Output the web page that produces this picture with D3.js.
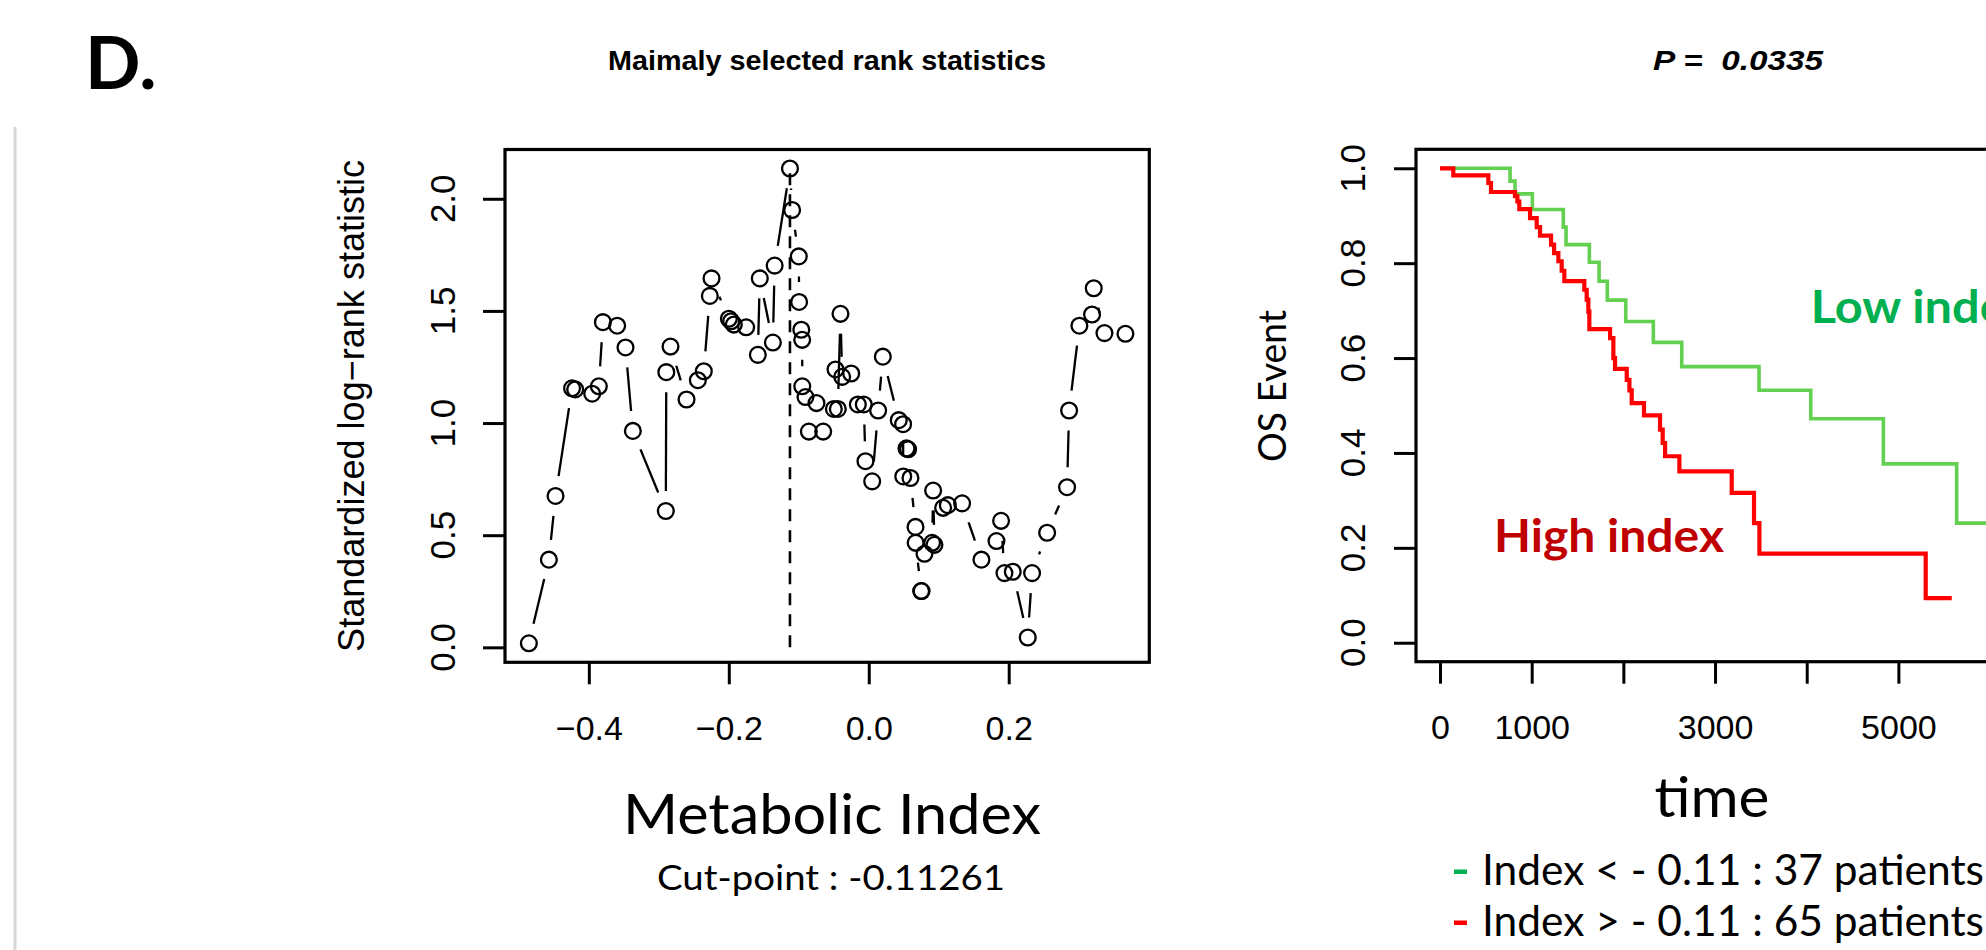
<!DOCTYPE html>
<html>
<head>
<meta charset="utf-8">
<script src="https://cdn.jsdelivr.net/npm/d3@7"></script>
<style>
	body { margin: 0; background: #fff; }
	svg { display: block; }
	.rtxt { font-family: "Liberation Sans", Arial, sans-serif; }
	.pptxt { font-family: Lato, "Open Sans", sans-serif; }
</style>
</head>
<body>
<svg id="chart" width="1986" height="950"></svg>
<script>
// left panel: maximally selected rank statistics
var cutValues = [-0.4857, -0.4571, -0.4476, -0.4240, -0.4195, -0.3952, -0.3857, -0.3799, -0.3595, -0.3476,
	-0.3371, -0.2900, -0.2893, -0.2833, -0.2604, -0.2442, -0.2357, -0.2271, -0.2247, -0.1999,
	-0.1966, -0.1928, -0.1752, -0.1585, -0.1557, -0.1370, -0.1345, -0.1126, -0.1095, -0.1000,
	-0.0995, -0.0964, -0.0951, -0.0950, -0.0904, -0.0856, -0.0747, -0.0651, -0.0499, -0.0475,
	-0.0442, -0.0404, -0.0380, -0.0251, -0.0156, -0.0071, -0.0047, 0.0049, 0.0134, 0.0201,
	0.0429, 0.0491, 0.0493, 0.0539, 0.0563, 0.0596, 0.0668, 0.0670, 0.0749, 0.0755,
	0.0796, 0.0906, 0.0920, 0.0939, 0.1063, 0.1130, 0.1334, 0.1610, 0.1825, 0.1891,
	0.1939, 0.2058, 0.2272, 0.2334, 0.2549, 0.2834, 0.2863, 0.3010, 0.3191, 0.3215,
	0.3368, 0.3668];
var statValues = [0.018, 0.391, 0.675, 1.155, 1.150, 1.131, 1.164, 1.450, 1.434, 1.337,
	0.965, 0.608, 1.227, 1.341, 1.105, 1.191, 1.231, 1.567, 1.645, 1.465,
	1.454, 1.439, 1.427, 1.304, 1.645, 1.359, 1.702, 2.135, 1.950, 1.743,
	1.540, 1.416, 1.371, 1.164, 1.116, 0.962, 1.089, 0.962, 1.063, 1.239,
	1.063, 1.487, 1.206, 1.221, 1.083, 1.083, 0.830, 0.740, 1.056, 1.296,
	1.013, 0.995, 0.762, 0.887, 0.883, 0.755, 0.537, 0.466, 0.251, 0.251,
	0.417, 0.466, 0.699, 0.457, 0.622, 0.634, 0.642, 0.391, 0.474, 0.564,
	0.331, 0.337, 0.044, 0.331, 0.511, 0.714, 1.056, 1.434, 1.484, 1.601,
	1.401, 1.398];
var cutPoint = -0.11261;
var indexTicks = [-0.4, -0.2, 0, 0.2];
var statTicks = [0, 0.5, 1, 1.5, 2];

// right panel: Kaplan-Meier curves
var lowTimes = [0, 764, 818, 1007, 1345, 1375, 1629, 1735, 1825, 2026, 2327, 2637, 3480, 4044, 4836, 5636, 6300];
var lowSurv  = [1.0, 0.973, 0.946, 0.913, 0.876, 0.839, 0.802, 0.762, 0.722, 0.677, 0.633, 0.582, 0.532, 0.472, 0.377, 0.252, 0.252];
var highTimes = [0, 145, 527, 556, 818, 844, 865, 982, 1055, 1091, 1211, 1244, 1291, 1327, 1356, 1574, 1600, 1618,
	1629, 1855, 1891, 1909, 2037, 2066, 2091, 2225, 2400, 2429, 2455, 2611, 3182, 3425, 3484, 5298, 5582];
var highSurv  = [1.0, 0.985, 0.969, 0.950, 0.941, 0.930, 0.914, 0.895, 0.876, 0.858, 0.839, 0.821, 0.804, 0.784, 0.762, 0.744, 0.723, 0.698,
	0.661, 0.642, 0.600, 0.577, 0.554, 0.532, 0.505, 0.479, 0.449, 0.421, 0.393, 0.361, 0.316, 0.252, 0.188, 0.094, 0.094];
var timeMax = 6550;
var timeTicks = [0, 1000, 2000, 3000, 4000, 5000, 6000];
var timeLabels = [0, 1000, 3000, 5000];
var survTicks = [0, 0.2, 0.4, 0.6, 0.8, 1.0];

var svg = d3.select("#chart");
var fmt1 = d3.format(".1f");

// R pads the data range by 4% on each side
function rRange(lo, hi) {
	var d = (hi - lo) * 0.04;
	return [lo - d, hi + d];
}

function styleAxis(g) {
	g.select(".domain").remove();
	g.selectAll(".tick line").attr("stroke", "#000").attr("stroke-width", 3);
	g.attr("font-size", null).attr("font-family", null);
}

//----- panel label and titles
svg.append("text").attr("class", "pptxt")
	.attr("x", 85).attr("y", 89)
	.attr("font-size", 73).attr("font-weight", 700)
	.text("D.");

svg.append("line")
	.attr("x1", 15).attr("x2", 15).attr("y1", 127).attr("y2", 950)
	.attr("stroke", "#d6d6d6").attr("stroke-width", 3);

svg.append("text").attr("class", "rtxt")
	.attr("x", 827).attr("y", 70)
	.attr("text-anchor", "middle")
	.attr("font-size", 28).attr("font-weight", 700)
	.attr("textLength", 438).attr("lengthAdjust", "spacingAndGlyphs")
	.text("Maimaly selected rank statistics");

svg.append("text").attr("class", "rtxt")
	.attr("x", 1738).attr("y", 70)
	.attr("text-anchor", "middle")
	.attr("font-size", 28).attr("font-weight", 700).attr("font-style", "italic")
	.attr("textLength", 170).attr("lengthAdjust", "spacingAndGlyphs")
	.style("white-space", "pre")
	.text("P =  0.0335");

//----- left panel
var L = {x0: 505, x1: 1149.3, y0: 149.5, y1: 662.3};
var xL = d3.scaleLinear()
	.domain(rRange(d3.min(cutValues), d3.max(cutValues)))
	.range([L.x0, L.x1]);
var yL = d3.scaleLinear()
	.domain(rRange(d3.min(statValues), d3.max(statValues)))
	.range([L.y1, L.y0]);

var gL = svg.append("g");

gL.append("g").attr("class", "rtxt")
	.attr("transform", "translate(0," + L.y1 + ")")
	.call(d3.axisBottom(xL).tickValues(indexTicks).tickSize(22).tickPadding(31.5).tickFormat(fmt1))
	.call(styleAxis)
	.selectAll("text").attr("font-size", 34).attr("fill", "#000");

gL.append("g")
	.attr("transform", "translate(" + L.x0 + ",0)")
	.call(d3.axisLeft(yL).tickValues(statTicks).tickSize(22).tickFormat(""))
	.call(styleAxis);

gL.selectAll(".ylabL")
	.data(statTicks)
	.enter().append("text")
	.attr("class", "rtxt")
	.attr("transform", function(d) { return "translate(" + (L.x0 - 50) + "," + yL(d) + ") rotate(-90)"; })
	.attr("text-anchor", "middle")
	.attr("font-size", 35)
	.text(fmt1);

gL.append("text").attr("class", "rtxt")
	.attr("transform", "translate(364," + (L.y0 + L.y1) / 2 + ") rotate(-90)")
	.attr("text-anchor", "middle")
	.attr("font-size", 36)
	.attr("textLength", 492).attr("lengthAdjust", "spacingAndGlyphs")
	.text("Standardized log\u2212rank statistic");

// type="b" style: segments between points with a gap round each point
var pts = cutValues.map(function(c, i) { return [xL(c), yL(statValues[i])]; });
var gap = 20;
var segs = [];
for (var i = 1; i < pts.length; i++) {
	var dx = pts[i][0] - pts[i-1][0];
	var dy = pts[i][1] - pts[i-1][1];
	var len = Math.sqrt(dx*dx + dy*dy);
	if (len > 2 * gap) {
		var f = gap / len;
		segs.push([pts[i-1][0] + f*dx, pts[i-1][1] + f*dy, pts[i][0] - f*dx, pts[i][1] - f*dy]);
	}
}

gL.append("g").selectAll("line")
	.data(segs)
	.enter().append("line")
	.attr("x1", function(d) { return d[0]; })
	.attr("y1", function(d) { return d[1]; })
	.attr("x2", function(d) { return d[2]; })
	.attr("y2", function(d) { return d[3]; })
	.attr("stroke", "#000").attr("stroke-width", 2.3);

gL.append("g").selectAll("circle")
	.data(pts)
	.enter().append("circle")
	.attr("cx", function(d) { return d[0]; })
	.attr("cy", function(d) { return d[1]; })
	.attr("r", 7.9)
	.attr("fill", "none").attr("stroke", "#000").attr("stroke-width", 2.3);

gL.append("line")
	.attr("x1", xL(cutPoint)).attr("x2", xL(cutPoint))
	.attr("y1", yL(0)).attr("y2", yL(d3.max(statValues)))
	.attr("stroke", "#000").attr("stroke-width", 2.6)
	.attr("stroke-dasharray", "12,9");

gL.append("rect")
	.attr("x", L.x0).attr("y", L.y0)
	.attr("width", L.x1 - L.x0).attr("height", L.y1 - L.y0)
	.attr("fill", "none").attr("stroke", "#000").attr("stroke-width", 3.2);

gL.append("text").attr("class", "pptxt")
	.attr("x", 832).attr("y", 834)
	.attr("text-anchor", "middle")
	.attr("font-size", 56)
	.attr("textLength", 418).attr("lengthAdjust", "spacingAndGlyphs")
	.text("Metabolic Index");

gL.append("text").attr("class", "pptxt")
	.attr("x", 831).attr("y", 890)
	.attr("text-anchor", "middle")
	.attr("font-size", 35)
	.attr("textLength", 348).attr("lengthAdjust", "spacingAndGlyphs")
	.text("Cut-point : -0.11261");

//----- right panel
var R = {x0: 1416, x1: 2064.5, y0: 149.3, y1: 661.7};
var xR = d3.scaleLinear().domain(rRange(0, timeMax)).range([R.x0, R.x1]);
var yR = d3.scaleLinear().domain(rRange(0, 1)).range([R.y1, R.y0]);

var gR = svg.append("g");

gR.append("g").attr("class", "rtxt")
	.attr("transform", "translate(0," + R.y1 + ")")
	.call(d3.axisBottom(xR).tickValues(timeTicks).tickSize(22).tickPadding(31.5)
		.tickFormat(function(d) { return timeLabels.indexOf(d) >= 0 ? d : ""; }))
	.call(styleAxis)
	.selectAll("text").attr("font-size", 34).attr("fill", "#000");

gR.append("g")
	.attr("transform", "translate(" + R.x0 + ",0)")
	.call(d3.axisLeft(yR).tickValues(survTicks).tickSize(22).tickFormat(""))
	.call(styleAxis);

gR.selectAll(".ylabR")
	.data(survTicks)
	.enter().append("text")
	.attr("class", "rtxt")
	.attr("transform", function(d) { return "translate(" + (R.x0 - 51) + "," + yR(d) + ") rotate(-90)"; })
	.attr("text-anchor", "middle")
	.attr("font-size", 35)
	.text(fmt1);

gR.append("text").attr("class", "pptxt")
	.attr("transform", "translate(1286,386) rotate(-90)")
	.attr("text-anchor", "middle")
	.attr("font-size", 38)
	.attr("textLength", 152).attr("lengthAdjust", "spacingAndGlyphs")
	.text("OS Event");

var km = d3.line()
	.x(function(d) { return xR(d[0]); })
	.y(function(d) { return yR(d[1]); })
	.curve(d3.curveStepAfter);

gR.append("path")
	.datum(lowTimes.map(function(t, i) { return [t, lowSurv[i]]; }))
	.attr("d", km)
	.attr("fill", "none").attr("stroke", "#63d050").attr("stroke-width", 3.6);

gR.append("path")
	.datum(highTimes.map(function(t, i) { return [t, highSurv[i]]; }))
	.attr("d", km)
	.attr("fill", "none").attr("stroke", "#ff0000").attr("stroke-width", 4.2);

gR.append("rect")
	.attr("x", R.x0).attr("y", R.y0)
	.attr("width", R.x1 - R.x0).attr("height", R.y1 - R.y0)
	.attr("fill", "none").attr("stroke", "#000").attr("stroke-width", 3.2);

// "Low index" runs past the right edge, as in the source figure
gR.append("text").attr("class", "pptxt")
	.attr("x", 1810.7).attr("y", 323.3)
	.attr("font-size", 45).attr("font-weight", 700)
	.attr("fill", "#00b050")
	.attr("textLength", 220).attr("lengthAdjust", "spacingAndGlyphs")
	.text("Low index");

gR.append("text").attr("class", "pptxt")
	.attr("x", 1494).attr("y", 551.7)
	.attr("font-size", 45).attr("font-weight", 700)
	.attr("fill", "#c00000")
	.attr("textLength", 230).attr("lengthAdjust", "spacingAndGlyphs")
	.text("High index");

gR.append("text").attr("class", "pptxt")
	.attr("x", 1712).attr("y", 816.7)
	.attr("text-anchor", "middle")
	.attr("font-size", 56)
	.attr("textLength", 115).attr("lengthAdjust", "spacingAndGlyphs")
	.text("time");

// group legend under the survival plot
var legendRows = [
	{color: "#00b050", label: "Index < - 0.11 : 37 patients"},
	{color: "#ff0000", label: "Index > - 0.11 : 65 patients"}
];
var leg = gR.selectAll(".leg")
	.data(legendRows)
	.enter().append("g")
	.attr("transform", function(d, i) { return "translate(1454," + (885 + i * 51) + ")"; });

leg.append("rect")
	.attr("x", 0).attr("y", -15.5)
	.attr("width", 13).attr("height", 4.5)
	.attr("fill", function(d) { return d.color; });

leg.append("text").attr("class", "pptxt")
	.attr("x", 28).attr("y", 0)
	.attr("font-size", 42)
	.attr("textLength", 502).attr("lengthAdjust", "spacingAndGlyphs")
	.text(function(d) { return d.label; });
</script>
</body>
</html>
